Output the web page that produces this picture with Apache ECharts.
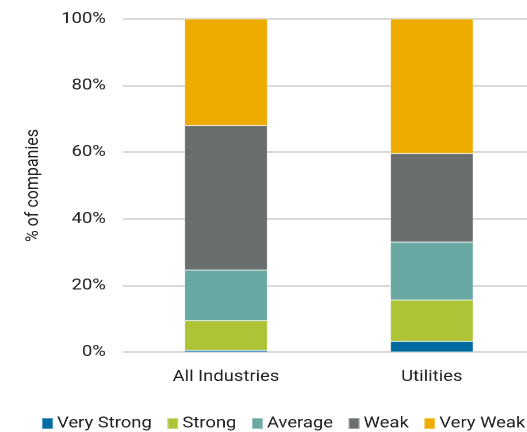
<!DOCTYPE html>
<html>
<head>
<meta charset="utf-8">
<script src="https://cdn.jsdelivr.net/npm/echarts@6/dist/echarts.min.js"></script>
<style>
html,body{margin:0;padding:0;background:#fff;overflow:hidden;}
#wrap{width:527px;height:432px;overflow:hidden;position:relative;}
#c{width:520px;height:432px;transform:scaleX(1.15);transform-origin:0 0;position:absolute;left:0;top:0;}
</style>
</head>
<body>
<div id="wrap"><div id="c"></div></div>
<script>
var categories = ["All Industries", "Utilities"];
var veryStrong = [0.5, 3.2];
var strong = [8.9, 12.4];
var average = [15.2, 17.4];
var weak = [43.4, 26.6];
var veryWeak = [32.0, 40.4];
var yTicks = [0, 20, 40, 60, 80, 100];

var font = "Roboto";
var textColor = "#222222";
var chart = echarts.init(document.getElementById('c'), null, {renderer: 'canvas', devicePixelRatio: 2});
function s(name, data, color) {
  return {
    name: name, type: 'bar', stack: 'total', data: data, barWidth: 72,
    itemStyle: {color: color, borderColor: 'rgba(255,255,255,0.35)', borderWidth: 0.6},
    emphasis: {disabled: true}
  };
}
chart.setOption({
  animation: false,
  textStyle: {fontFamily: font},
  grid: {left: 107, top: 19, right: 55, bottom: 80, containLabel: false},
  legend: {
    left: 30.5, top: 410.5, itemWidth: 9.6, itemHeight: 11, itemGap: 12.5,
    icon: 'rect',
    textStyle: {fontFamily: font, fontSize: 16, color: textColor, padding: [0, 0, 0, -1.5]},
    data: ['Very Strong', 'Strong', 'Average', 'Weak', 'Very Weak']
  },
  xAxis: {
    type: 'category', data: categories,
    axisLine: {show: false}, axisTick: {show: false},
    axisLabel: {fontFamily: font, fontSize: 16, color: textColor, margin: 17}
  },
  yAxis: {
    type: 'value', min: yTicks[0], max: yTicks[yTicks.length - 1], interval: 20,
    name: '% of companies', nameLocation: 'middle', nameGap: 70,
    nameTextStyle: {fontFamily: font, fontSize: 16, color: textColor},
    axisLine: {show: false}, axisTick: {show: false},
    axisLabel: {fontFamily: font, fontSize: 16, color: textColor, margin: 15, formatter: '{value}%'},
    splitLine: {lineStyle: {color: '#d9d9d9', width: 2}}
  },
  series: [
    s('Very Strong', veryStrong, '#006ba0'),
    s('Strong', strong, '#acc436'),
    s('Average', average, '#69a8a2'),
    s('Weak', weak, '#6a6e6f'),
    s('Very Weak', veryWeak, '#eeab00')
  ]
});
</script>
</body>
</html>
